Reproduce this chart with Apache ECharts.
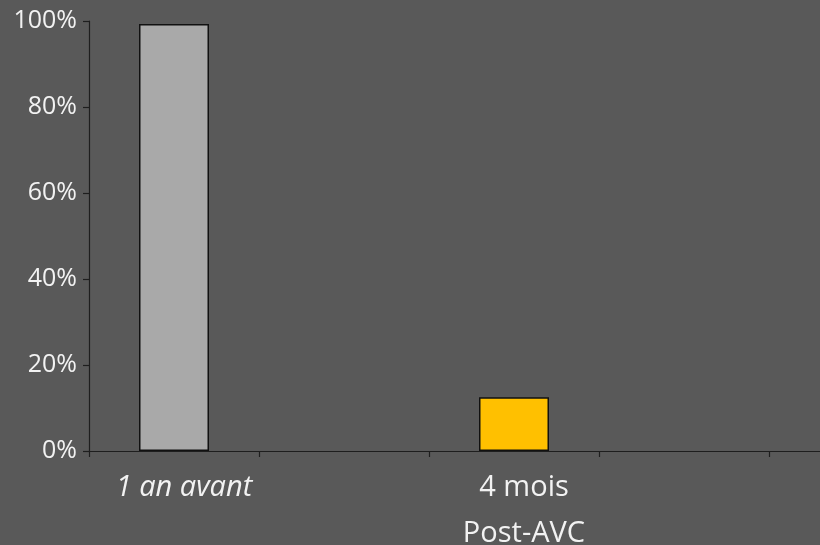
<!DOCTYPE html>
<html>
<head>
<meta charset="utf-8">
<script src="https://cdn.jsdelivr.net/npm/echarts@6/dist/echarts.min.js"></script>
<style>
  html, body { margin: 0; padding: 0; background: #595959; }
  #chart { width: 820px; height: 545px; }
</style>
</head>
<body>
<div id="chart"></div>
<script>
// Share of patients (%) — one year before vs. four months after the stroke
const categories = ['1 an avant', '', '4 mois\nPost-AVC', '', ''];
const percentValues = [99.3, null, 12.5, null, null];
const yTicks = [0, 20, 40, 60, 80, 100];

const barColors = ['#A9A9A9', '#A9A9A9', '#FFC000', '#FFC000', '#FFC000'];
const textColor = '#F2F2F2';
const axisColor = '#1E1E1E';
const font = '"Open Sans", "Liberation Sans", sans-serif';

const chart = echarts.init(document.getElementById('chart'), null, { renderer: 'canvas' });

chart.setOption({
  backgroundColor: '#595959',
  animation: false,
  grid: { left: 89, top: 21, width: 850, height: 430, containLabel: false, outerBoundsMode: 'none' },
  xAxis: {
    type: 'category',
    data: categories,
    boundaryGap: true,
    axisLine: { lineStyle: { color: axisColor, width: 1.2 } },
    axisTick: { show: true, length: 6, alignWithLabel: false, lineStyle: { color: axisColor, width: 1.2 } },
    axisLabel: {
      interval: 0,
      margin: 14,
      color: textColor,
      fontFamily: font,
      fontSize: 29,
      lineHeight: 46,
      padding: [0, 0, 0, 20],
      formatter: (v, i) => (i === 0 ? '{it|' + v + '}' : v),
      rich: {
        it: { fontStyle: 'italic', fontFamily: font, fontSize: 29, color: textColor, lineHeight: 46, letterSpacing: 0.5 }
      }
    },
    splitLine: { show: false }
  },
  yAxis: {
    type: 'value',
    min: yTicks[0],
    max: yTicks[yTicks.length - 1],
    interval: yTicks[1] - yTicks[0],
    axisLine: { show: true, lineStyle: { color: axisColor, width: 1.2 } },
    axisTick: { show: true, length: 6, lineStyle: { color: axisColor, width: 1.2 } },
    axisLabel: {
      margin: 12,
      color: textColor,
      fontFamily: font,
      fontSize: 25,
      formatter: '{value}%'
    },
    splitLine: { show: false }
  },
  series: [{
    type: 'bar',
    data: percentValues,
    barWidth: 70,
    itemStyle: {
      color: (p) => barColors[p.dataIndex],
      borderColor: '#111111',
      borderWidth: 1.5
    }
  }]
});
</script>
</body>
</html>
